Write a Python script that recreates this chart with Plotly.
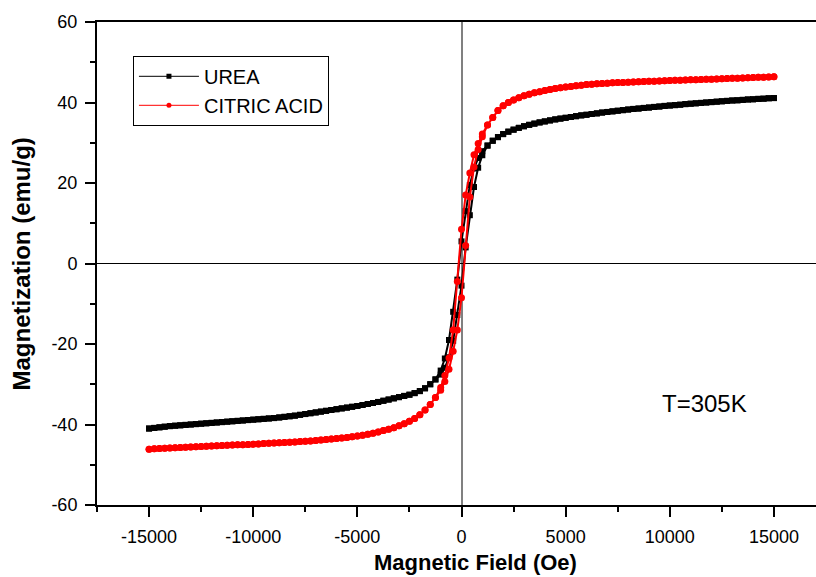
import plotly.graph_objects as go

# ---------------- data ----------------
H_FAR_POS = [15000, 14750, 14500, 14250, 14000, 13750, 13500, 13250, 13000, 12750,
             12500, 12250, 12000, 11750, 11500, 11250, 11000, 10750, 10500, 10250,
             10000, 9750, 9500, 9250, 9000, 8750, 8500, 8250, 8000, 7750,
             7500, 7250, 7000, 6750, 6500, 6250, 6000, 5750, 5500, 5250,
             5000, 4750, 4500, 4250, 4000, 3750, 3500, 3250, 3000, 2750,
             2500, 2250, 2000]
H_NEAR_DOWN = [1750, 1500, 1250, 1000, 800, 600, 400, 200, 0,
               -200, -400, -600, -800, -1000, -1250, -1500, -1750]
H_NEAR_UP = [-1750, -1500, -1250, -1000, -800, -600, -400, -200, 0,
             200, 400, 600, 800, 1000, 1250, 1500, 1750]
H_FAR_NEG = [-2000, -2250, -2500, -2750, -3000, -3250, -3500, -3750, -4000, -4250,
             -4500, -4750, -5000, -5250, -5500, -5750, -6000, -6250, -6500, -6750,
             -7000, -7250, -7500, -7750, -8000, -8250, -8500, -8750, -9000, -9250,
             -9500, -9750, -10000, -10250, -10500, -10750, -11000, -11250, -11500, -11750,
             -12000, -12250, -12500, -12750, -13000, -13250, -13500, -13750, -14000, -14250,
             -14500, -14750, -15000]

UREA_FAR_POS = [41.10, 41.05, 40.95, 40.90, 40.80, 40.75, 40.65, 40.55, 40.50, 40.40,
                40.30, 40.20, 40.10, 40.00, 39.90, 39.80, 39.70, 39.60, 39.45, 39.35,
                39.25, 39.15, 39.00, 38.90, 38.75, 38.65, 38.50, 38.40, 38.25, 38.10,
                37.95, 37.80, 37.65, 37.50, 37.30, 37.15, 36.95, 36.80, 36.60, 36.40,
                36.20, 36.00, 35.80, 35.55, 35.30, 35.05, 34.75, 34.45, 34.10, 33.70,
                33.25, 32.75, 32.15]
UREA_NEAR_DOWN = [31.4, 30.5, 29.3, 27.9, 26.2, 23.6, 19.5, 13.0, 5.5,
                  -4.0, -12.0, -19.0, -23.6, -26.6, -28.8, -30.0, -31.0]
UREA_NEAR_UP = [-31.0, -30.0, -28.8, -27.6, -25.9, -23.3, -19.2, -12.8, -5.5,
                4.0, 12.0, 19.0, 23.8, 26.9, 29.3, 30.5, 31.4]
UREA_FAR_NEG = [-31.70, -32.20, -32.60, -32.90, -33.20, -33.50, -33.80, -34.10, -34.40, -34.65,
                -34.90, -35.15, -35.40, -35.60, -35.80, -36.00, -36.20, -36.40, -36.60, -36.80,
                -37.00, -37.20, -37.40, -37.60, -37.80, -37.95, -38.10, -38.25, -38.40, -38.50,
                -38.60, -38.70, -38.80, -38.90, -39.00, -39.10, -39.20, -39.30, -39.40, -39.50,
                -39.60, -39.70, -39.80, -39.90, -40.00, -40.10, -40.20, -40.30, -40.40, -40.55,
                -40.70, -40.85, -41.00]

CITRIC_FAR_POS = [46.40, 46.35, 46.30, 46.25, 46.20, 46.15, 46.10, 46.05, 46.00, 45.95,
                  45.90, 45.85, 45.80, 45.76, 45.72, 45.68, 45.64, 45.60, 45.55, 45.50,
                  45.45, 45.40, 45.35, 45.30, 45.25, 45.20, 45.15, 45.10, 45.05, 45.00,
                  44.95, 44.88, 44.80, 44.72, 44.64, 44.55, 44.45, 44.30, 44.15, 44.00,
                  43.82, 43.65, 43.45, 43.22, 42.97, 42.70, 42.40, 42.05, 41.65, 41.20,
                  40.65, 40.00, 39.20]
CITRIC_NEAR_DOWN = [38.0, 36.3, 34.4, 32.2, 29.8, 27.0, 22.5, 17.0, 8.5,
                    -4.5, -16.5, -23.5, -27.8, -30.8, -33.3, -35.0, -36.4]
CITRIC_NEAR_UP = [-36.4, -35.0, -33.3, -31.5, -29.3, -26.3, -21.8, -16.5, -8.5,
                  4.5, 16.5, 24.0, 28.3, 31.5, 34.4, 36.3, 38.0]
CITRIC_FAR_NEG = [-37.60, -38.50, -39.20, -39.80, -40.30, -40.80, -41.15, -41.50, -41.85, -42.15,
                  -42.40, -42.65, -42.85, -43.05, -43.20, -43.35, -43.50, -43.62, -43.74, -43.86,
                  -43.97, -44.07, -44.16, -44.25, -44.33, -44.40, -44.47, -44.54, -44.61, -44.68,
                  -44.75, -44.82, -44.88, -44.94, -45.00, -45.06, -45.12, -45.18, -45.24, -45.30,
                  -45.36, -45.42, -45.48, -45.54, -45.60, -45.66, -45.72, -45.78, -45.84, -45.90,
                  -45.96, -46.05, -46.12]

X_TICKS = [-15000, -10000, -5000, 0, 5000, 10000, 15000]
X_TICK_TEXT = ["-15000", "-10000", "-5000", "0", "5000", "10000", "15000"]
Y_TICKS = [-60, -40, -20, 0, 20, 40, 60]
Y_TICK_TEXT = ["-60", "-40", "-20", "0", "20", "40", "60"]

SERIES = [
    ("UREA", "black", "square", 6, UREA_FAR_POS, UREA_NEAR_DOWN, UREA_FAR_NEG, UREA_NEAR_UP),
    ("CITRIC ACID", "#ff0000", "circle", 7, CITRIC_FAR_POS, CITRIC_NEAR_DOWN, CITRIC_FAR_NEG, CITRIC_NEAR_UP),
]

FONT = "Liberation Sans, Arial, sans-serif"

fig = go.Figure()
for name, color, symbol, msize, far_pos, near_down, far_neg, near_up in SERIES:
    # descending branch (+H -> -H) followed by ascending branch (-H -> +H)
    xs = H_FAR_POS + H_NEAR_DOWN + H_FAR_NEG + H_FAR_NEG[::-1] + H_NEAR_UP + H_FAR_POS[::-1]
    ys = far_pos + near_down + far_neg + far_neg[::-1] + near_up + far_pos[::-1]
    fig.add_trace(go.Scatter(
        x=xs, y=ys, mode="lines+markers", name=name, showlegend=False,
        line=dict(color=color, width=2),
        marker=dict(color=color, symbol=symbol, size=msize, line=dict(width=0)),
    ))
for name, color, symbol, msize, *_ in SERIES:
    fig.add_trace(go.Scatter(
        x=[None], y=[None], mode="lines+markers", name=name,
        line=dict(color=color, width=1),
        marker=dict(color=color, symbol=symbol, size=5, line=dict(width=0)),
    ))

axis_common = dict(
    showgrid=False, showline=True, linecolor="black", linewidth=2,
    ticks="outside", ticklen=10, tickwidth=2, tickcolor="black",
    tickfont=dict(family=FONT, size=18, color="black"),
    tickmode="array",
)
fig.update_xaxes(
    **axis_common, range=[-17500, 17020], tickvals=X_TICKS, ticktext=X_TICK_TEXT,
    mirror=True, zeroline=True, zerolinecolor="#808080", zerolinewidth=1.5,
    minor=dict(tickmode="linear", tick0=0, dtick=2500, ticks="outside",
               ticklen=5, tickwidth=2, tickcolor="black"),
    ticklabelstandoff=4,
)
fig.update_yaxes(
    **axis_common, range=[-60, 60], tickvals=Y_TICKS, ticktext=Y_TICK_TEXT,
    zeroline=True, zerolinecolor="black", zerolinewidth=1,
    minor=dict(tickmode="linear", tick0=0, dtick=10, ticks="outside",
               ticklen=5, tickwidth=2, tickcolor="black"),
    ticklabelstandoff=4,
)

fig.update_layout(
    width=816, height=577,
    margin=dict(l=97, r=0, t=22, b=72),
    paper_bgcolor="white", plot_bgcolor="white",
    showlegend=True,
    legend=dict(x=0.05, y=0.93, xanchor="left", yanchor="top",
                bgcolor="white", bordercolor="black", borderwidth=1,
                font=dict(family=FONT, size=20, color="black"),
                tracegroupgap=0, itemwidth=60),
    annotations=[
        dict(text="Magnetic Field (Oe)", xref="paper", yref="paper",
             x=0.527, y=-0.088, xanchor="center", yanchor="top", showarrow=False,
             font=dict(family=FONT, size=22, color="black", weight="bold")),
        dict(text="Magnetization (emu/g)", xref="paper", yref="paper",
             x=-0.105, y=0.499, xanchor="center", yanchor="middle", showarrow=False,
             textangle=-90,
             font=dict(family=FONT, size=24, color="black", weight="bold")),
        dict(text="T=305K", xref="paper", yref="paper",
             x=(704 - 97) / 719, y=(505 - 403.5) / 483, xanchor="center", yanchor="middle",
             showarrow=False, font=dict(family=FONT, size=24, color="black")),
    ],
)

fig.write_html("out.html")
